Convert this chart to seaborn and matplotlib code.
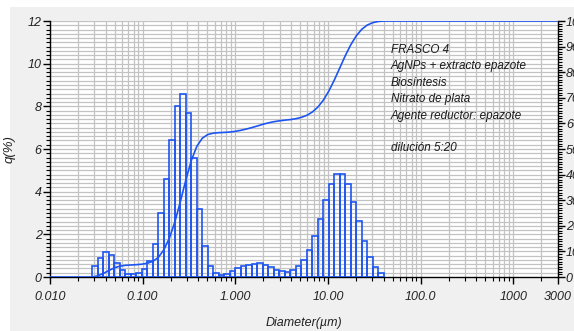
import numpy as np
import pandas as pd
import matplotlib
matplotlib.use("Agg")
import matplotlib.pyplot as plt
from matplotlib.ticker import FixedLocator, NullFormatter, MultipleLocator, FixedFormatter
from matplotlib.patches import Rectangle
import seaborn as sns

# ---------------- data ----------------
# size-class edges (um)
class_edges = [0.0287, 0.0329, 0.0377, 0.0432, 0.0496, 0.0568, 0.0651, 0.0747, 0.0856, 0.0981,
               0.1125, 0.1289, 0.1478, 0.1694, 0.1942, 0.2226, 0.2552, 0.2925, 0.3353, 0.3844,
               0.4406, 0.5051, 0.5790, 0.6637, 0.7608, 0.8721, 0.9997, 1.146, 1.314, 1.506,
               1.726, 1.979, 2.268, 2.600, 2.981, 3.417, 3.917, 4.490, 5.147, 5.900,
               6.763, 7.752, 8.887, 10.19, 11.68, 13.39, 15.34, 17.59, 20.16, 23.11,
               26.49, 30.37, 34.81, 39.90]
# frequency q(%) per class
q_values = [0.51, 0.89, 1.17, 1.05, 0.67, 0.32, 0.13, 0.13, 0.19, 0.38,
            0.76, 1.56, 3.00, 4.60, 6.40, 8.00, 8.60, 7.70, 5.60, 3.20,
            1.45, 0.53, 0.19, 0.11, 0.14, 0.27, 0.41, 0.50, 0.58, 0.63,
            0.66, 0.56, 0.47, 0.34, 0.27, 0.23, 0.34, 0.53, 0.81, 1.28,
            1.92, 2.72, 3.60, 4.36, 4.81, 4.81, 4.34, 3.52, 2.61, 1.70,
            0.95, 0.47, 0.19]
x_tick_values = [0.01, 0.1, 1, 10, 100, 1000, 3000]
x_tick_labels = ["0.010", "0.100", "1.000", "10.00", "100.0", "1000", "3000"]
info_lines = ["FRASCO 4", "AgNPs + extracto epazote", "Biosíntesis",
              "Nitrato de plata", "Agente reductor: epazote", "", "dilución 5:20"]

# ---------------- derived tables ----------------
edges = np.array(class_edges)
centers = np.sqrt(edges[:-1] * edges[1:])
q = np.array(q_values)
df_q = pd.DataFrame({"d": centers, "q": q})
cum = np.cumsum(q) / q.sum() * 100
df_cum = pd.DataFrame({"d": np.concatenate([[0.01], edges, [3000]]),
                       "Q": np.concatenate([[0, 0], cum, [100]])})

# ---------------- style ----------------
sns.set_theme(style="white")
plt.rcParams["font.family"] = ["Liberation Sans", "DejaVu Sans"]
plt.rcParams["font.style"] = "italic"
BLUE = "#1d55f2"
GRID = "#c3c3c3"

fig = plt.figure(figsize=(5.74, 3.31), dpi=100, facecolor="white")
fig.patches.append(Rectangle((10 / 574, 0), 1, 1 - 7 / 331, transform=fig.transFigure,
                             facecolor="#f0f0f0", edgecolor="none", zorder=-10))
ax = fig.add_axes([50 / 574, 1 - 277 / 331, (557.5 - 50) / 574, (277 - 21) / 331])
ax.set_facecolor("white")

sns.histplot(data=df_q, x="d", weights="q", bins=[float(b) for b in np.log10(edges)],
             log_scale=True, fill=False, element="bars", color=BLUE, linewidth=1.2,
             ax=ax, zorder=3)
for p in ax.patches:
    p.set_edgecolor(BLUE)

# cumulative curve on secondary axis
ax2 = ax.twinx()
sns.lineplot(data=df_cum, x="d", y="Q", color=BLUE, lw=1.2, ax=ax2, zorder=4)
ax2.set_ylim(0, 100)
ax2.set_ylabel("")

ax.set_xlim(0.01, 3000)
ax.set_ylim(0, 12)

# grid
minor_x = [m * 10.0 ** e for e in range(-2, 4) for m in range(1, 10) if 0.01 <= m * 10.0 ** e <= 3000]
for xv in minor_x:
    ax.axvline(xv, color=GRID, lw=0.9, zorder=0)
for yv in np.arange(0.2, 12.01, 0.2):
    ax.axhline(yv, color=GRID, lw=0.9, zorder=0)

ax.xaxis.set_major_locator(FixedLocator(x_tick_values))
ax.xaxis.set_major_formatter(FixedFormatter(x_tick_labels))
ax.xaxis.set_minor_locator(FixedLocator(minor_x))
ax.xaxis.set_minor_formatter(NullFormatter())
ax.yaxis.set_major_locator(MultipleLocator(2))
ax.yaxis.set_minor_locator(MultipleLocator(0.2))
ax.tick_params(axis="both", which="major", direction="out", length=5, width=1,
               color="black", labelsize=9, bottom=True, left=True, labelcolor="#222222")
ax.tick_params(axis="x", which="major", pad=5)
ax.tick_params(axis="y", which="major", pad=1)
ax.tick_params(axis="both", which="minor", direction="out", length=3, width=0.8,
               color="black", bottom=True, left=True)
for side in ["left", "bottom"]:
    ax.spines[side].set_color("black")
    ax.spines[side].set_linewidth(1)
ax.spines["top"].set_visible(False)
ax.spines["right"].set_visible(False)
ax.set_xlabel("Diameter(µm)", fontsize=9, labelpad=10, color="#222222")
ax.set_ylabel("q(%)", fontsize=9.5, labelpad=9, color="#222222")

ax2.yaxis.set_major_locator(MultipleLocator(10))
ax2.yaxis.set_minor_locator(MultipleLocator(1))
ax2.tick_params(axis="y", which="major", direction="out", length=5, width=1,
                color="black", labelsize=9, pad=1, right=True, labelcolor="#222222")
ax2.tick_params(axis="y", which="minor", direction="out", length=3, width=0.8,
                color="black", right=True)
for side in ["left", "top", "bottom"]:
    ax2.spines[side].set_visible(False)
ax2.spines["right"].set_color("black")
ax2.spines["right"].set_linewidth(1)

for i, line in enumerate(info_lines):
    fig.text(391 / 574, 1 - (50 + i * 16.4) / 331, line, fontsize=8.4,
             style="italic", va="center", ha="left", color="#1a1a1a")

fig.savefig("out.png", dpi=100, facecolor=fig.get_facecolor())
